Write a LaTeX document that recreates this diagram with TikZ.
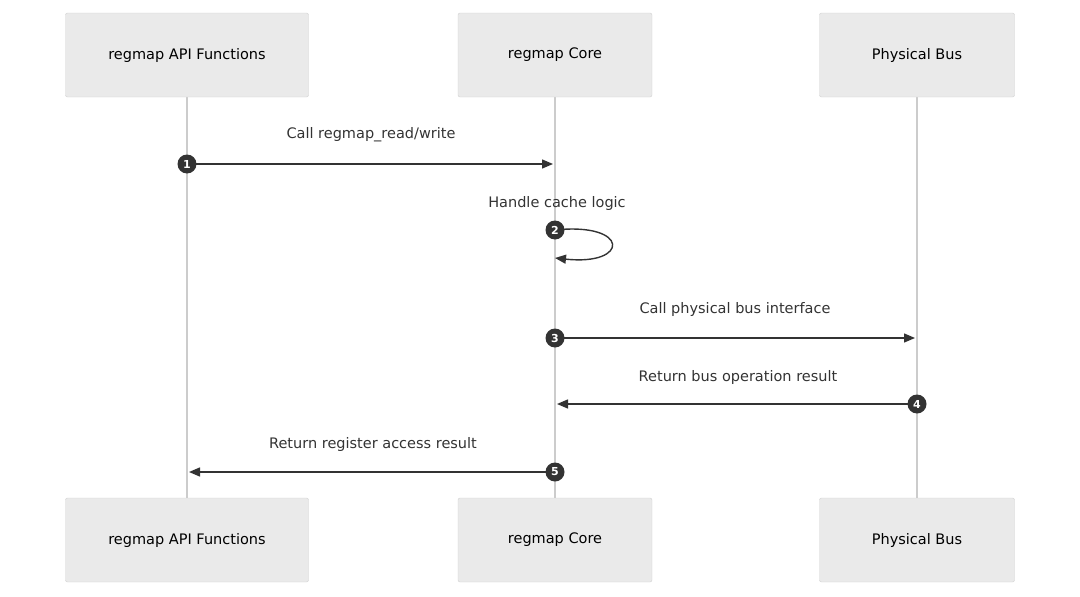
\documentclass[tikz,border=0pt]{standalone}
\usepackage{fontspec}
\setmainfont{DejaVu Sans}
\usetikzlibrary{arrows.meta}
\definecolor{boxfill}{HTML}{EAEAEA}
\definecolor{boxline}{HTML}{D0D0D0}
\definecolor{lifeline}{HTML}{CCCCCC}
\definecolor{ink}{HTML}{333333}
\tikzset{
  font={\fontsize{14.5pt}{17}\selectfont},
  actor/.style={draw=boxline, fill=boxfill, rounded corners=2pt, minimum height=84pt, inner sep=0pt},
  msg/.style={ink, line width=1.4pt, -{Triangle[length=11pt,width=9pt]}},
  num/.style={circle, fill=ink, text=white, inner sep=0pt, minimum size=19pt, font={\fontsize{11pt}{12}\selectfont\bfseries}},
  txt/.style={text=ink}}

\begin{document}
\begin{tikzpicture}[x=1pt,y=-1pt]
\useasboundingbox (0,0) rectangle (1080,597);
% lifelines
\draw [lifeline, line width=1.5pt] (187,97) -- (187,498);
\draw [lifeline, line width=1.5pt] (555,97) -- (555,498);
\draw [lifeline, line width=1.5pt] (917,97) -- (917,498);
% actors
\node [actor, minimum width=243pt] (apiT) at (187,55) {regmap API Functions};
\node [actor, minimum width=194pt] (coreT) at (555,55) {regmap Core};
\node [actor, minimum width=195pt] (busT) at (917,55) {Physical Bus};
\node [actor, minimum width=243pt] (apiB) at (187,540) {regmap API Functions};
\node [actor, minimum width=194pt] (coreB) at (555,540) {regmap Core};
\node [actor, minimum width=195pt] (busB) at (917,540) {Physical Bus};
% messages
\coordinate (m1a) at (187,164); \coordinate (m1b) at (553,164);
\draw [msg] (m1a) -- (m1b);
\node [num] at (m1a) {1};
\node [txt] at (371,135) {Call regmap\_read/write};
\coordinate (m2a) at (555,230); \coordinate (m2b) at (555,258);
\draw [msg] (m2a) .. controls (630,222) and (630,266) .. (m2b);
\node [num] at (m2a) {2};
\node [txt] at (557,203) {Handle cache logic};
\coordinate (m3a) at (555,338); \coordinate (m3b) at (915,338);
\draw [msg] (m3a) -- (m3b);
\node [num] at (m3a) {3};
\node [txt] at (735,309) {Call physical bus interface};
\coordinate (m4a) at (917,404); \coordinate (m4b) at (557,404);
\draw [msg] (m4a) -- (m4b);
\node [num] at (m4a) {4};
\node [txt] at (738,377) {Return bus operation result};
\coordinate (m5a) at (555,472); \coordinate (m5b) at (189,472);
\draw [msg] (m5a) -- (m5b);
\node [num] at (m5a) {5};
\node [txt] at (373,444) {Return register access result};
\end{tikzpicture}
\end{document}
